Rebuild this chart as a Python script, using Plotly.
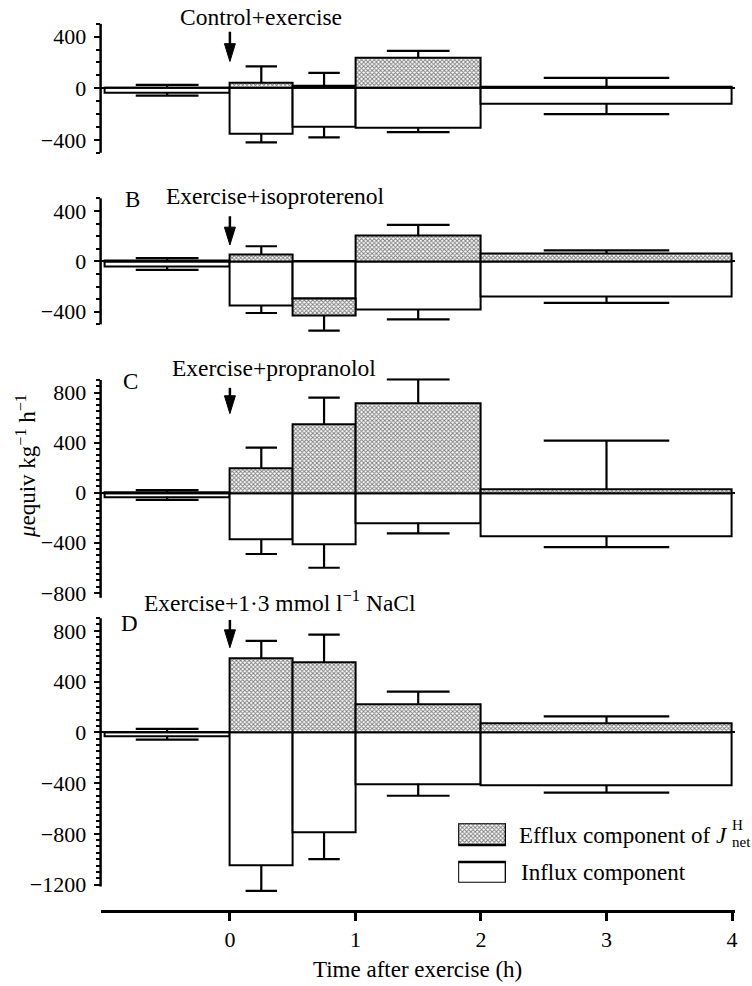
import plotly.graph_objects as go

# Sampling intervals (h after exercise): pre-exercise control, then 0-0.5, 0.5-1, 1-2, 2-4
interval_mid = [-0.5, 0.25, 0.75, 1.5, 3.0]
interval_len = [1.0, 0.5, 0.5, 1.0, 2.0]
x_ticks = [0, 1, 2, 3, 4]

panel_letters = ["", "B", "C", "D"]
panel_titles = [
    "Control+exercise",
    "Exercise+isoproterenol",
    "Exercise+propranolol",
    "Exercise+1·3 mmol l<sup>−1</sup> NaCl",
]

# Efflux / influx components of J_net^H (µequiv kg-1 h-1) and their S.E.M.
efflux_A = [5, 40, 20, 240, 15]
efflux_se_A = [22, 130, 100, 50, 65]
influx_A = [-32, -355, -300, -310, -120]
influx_se_A = [25, 65, 80, 30, 80]

efflux_B = [5, 55, -135, 205, 60]
efflux_se_B = [21, 65, 0, 85, 28]
influx_B = [-42, -350, -295, -380, -280]
influx_se_B = [25, 60, 120, 80, 50]

efflux_C = [5, 195, 550, 715, 30]
efflux_se_C = [15, 165, 210, 190, 385]
influx_C = [-32, -375, -415, -240, -350]
influx_se_C = [25, 115, 185, 85, 85]

efflux_D = [5, 585, 550, 225, 75]
efflux_se_D = [22, 135, 220, 95, 50]
influx_D = [-30, -1050, -785, -405, -420]
influx_se_D = [28, 200, 215, 95, 55]

efflux = [efflux_A, efflux_B, efflux_C, efflux_D]
efflux_se = [efflux_se_A, efflux_se_B, efflux_se_C, efflux_se_D]
influx = [influx_A, influx_B, influx_C, influx_D]
influx_se = [influx_se_A, influx_se_B, influx_se_C, influx_se_D]

# Axis set-up for each panel: drawn axis span, plotting range (room for S.E.M. caps)
axis_span = [[-500, 500], [-500, 500], [-840, 900], [-1215, 900]]
plot_range = [[-500, 500], [-565, 500], [-840, 915], [-1265, 900]]
px_per_unit = [0.130, 0.127, 0.1262, 0.1279]
zero_px = [89.0, 263.5, 496.7, 738.3]
minor_step = [100, 100, 50, 50]
arrow_px = [(32, 62), (218, 247), (391, 417), (625, 653)]
title_px = [(262, 17), (277, 198), (275, 371), (281, 606)]
letter_px = [None, (133, 201), (131, 385), (130, 629)]

W, H = 752, 986
FONT = "Liberation Serif, Times New Roman, serif"
x_range = [-1.03, 4.02]
x_left, x_right = 101, 737.5
x_dom = [x_left / W, x_right / W]


def py(p):
    return 1 - p / H


def to_px(i, v):
    return zero_px[i] - v * px_per_unit[i]


def time_px(t):
    return x_left + (t - x_range[0]) * (x_right - x_left) / (x_range[1] - x_range[0])


fig = go.Figure()
hatch = dict(shape="x", size=3, solidity=0.55, fgcolor="black", bgcolor="white")

for i in range(4):
    sfx = "" if i == 0 else str(i + 1)
    xa, ya = "x" + sfx, "y" + sfx
    fig.add_trace(go.Bar(
        x=interval_mid, y=influx[i], width=interval_len,
        marker=dict(color="white", line=dict(color="black", width=2)),
        xaxis=xa, yaxis=ya, hoverinfo="skip",
    ))
    fig.add_trace(go.Bar(
        x=interval_mid, y=efflux[i], width=interval_len,
        marker=dict(color="white", pattern=hatch, line=dict(color="black", width=2)),
        xaxis=xa, yaxis=ya, hoverinfo="skip",
    ))

    # S.E.M. bars: up from the top of the positive stack, down from the bottom of the negative stack
    ex, ey = [], []
    for m, w, e, es, f, fs in zip(interval_mid, interval_len, efflux[i], efflux_se[i],
                                  influx[i], influx_se[i]):
        half = w / 4
        if es > 0 and e > 0:
            ex += [m, m, None, m - half, m + half, None]
            ey += [e, e + es, None, e + es, e + es, None]
        low = f + min(e, 0)
        if fs > 0:
            ex += [m, m, None, m - half, m + half, None]
            ey += [low, low - fs, None, low - fs, low - fs, None]
    fig.add_trace(go.Scatter(
        x=ex, y=ey, mode="lines", line=dict(color="black", width=2.2),
        xaxis=xa, yaxis=ya, hoverinfo="skip",
    ))

    lo, hi = plot_range[i]
    s_lo, s_hi = axis_span[i]
    m_start = -(-s_lo // minor_step[i]) * minor_step[i]
    minor_vals = list(range(m_start, s_hi + 1, minor_step[i]))
    fig.layout["xaxis" + sfx] = dict(
        domain=x_dom, range=x_range, visible=False, anchor=ya, fixedrange=True,
    )
    fig.layout["yaxis" + sfx] = dict(
        domain=[py(to_px(i, lo)), py(to_px(i, hi))], range=[lo, hi], anchor=xa,
        dtick=400, tick0=0, ticks="outside", ticklen=6, tickwidth=2, tickcolor="black",
        showline=False, showgrid=False,
        zeroline=True, zerolinecolor="black", zerolinewidth=2,
        minor=dict(tickmode="array", tickvals=minor_vals, ticks="outside", ticklen=4,
                   tickwidth=1.5, tickcolor="black", showgrid=False),
        tickfont=dict(family=FONT, size=22, color="black"),
        ticklabelstandoff=3, fixedrange=True,
    )
    # value axis line over its labelled span only
    fig.add_shape(type="line", xref="paper", yref="paper",
                  x0=x_left / W, x1=x_left / W,
                  y0=py(to_px(i, s_lo)), y1=py(to_px(i, s_hi)),
                  line=dict(color="black", width=2.5))

    # exercise marker arrow at t = 0: shaft plus filled head
    a0, a1 = arrow_px[i]
    ax_px = time_px(0)
    head_h, head_w = 18, 5.5
    fig.add_shape(type="line", xref="paper", yref="paper",
                  x0=ax_px / W, x1=ax_px / W, y0=py(a0), y1=py(a1 - head_h + 2),
                  line=dict(color="black", width=2.5))
    fig.add_shape(type="path", xref="paper", yref="paper",
                  path=(f"M {(ax_px - head_w) / W},{py(a1 - head_h)} "
                        f"L {(ax_px + head_w) / W},{py(a1 - head_h)} "
                        f"L {ax_px / W},{py(a1)} Z"),
                  fillcolor="black", line=dict(color="black", width=1))

    tx, ty = title_px[i]
    fig.add_annotation(
        x=tx / W, y=py(ty), xref="paper", yref="paper", text=panel_titles[i],
        showarrow=False, font=dict(family=FONT, size=23.5, color="black"),
        xanchor="center", yanchor="middle",
    )
    if letter_px[i]:
        lx, ly = letter_px[i]
        fig.add_annotation(
            x=lx / W, y=py(ly), xref="paper", yref="paper", text=panel_letters[i],
            showarrow=False, font=dict(family=FONT, size=23, color="black"),
            xanchor="center", yanchor="middle",
        )

# Shared time axis along the bottom
fig.add_trace(go.Scatter(x=[], y=[], xaxis="x5", yaxis="y5", hoverinfo="skip"))
fig.layout["xaxis5"] = dict(
    domain=x_dom, range=x_range, anchor="y5", tickvals=x_ticks,
    ticks="outside", ticklen=8, tickwidth=3, tickcolor="black",
    showline=True, linewidth=3, linecolor="black", showgrid=False, zeroline=False,
    tickfont=dict(family=FONT, size=22, color="black"),
    title=dict(text="Time after exercise (h)", standoff=10,
               font=dict(family=FONT, size=23, color="black")),
    fixedrange=True,
)
fig.layout["yaxis5"] = dict(domain=[py(917.5), py(916)], visible=False, anchor="x5",
                            fixedrange=True)

# Key boxes
fig.add_trace(go.Bar(x=[0.5], y=[1.1], base=[1.9], width=[1],
                     marker=dict(color="white", pattern=hatch, line=dict(color="black", width=2.5)),
                     xaxis="x6", yaxis="y6", hoverinfo="skip"))
fig.add_trace(go.Bar(x=[0.5], y=[1.05], base=[0], width=[1],
                     marker=dict(color="white", line=dict(color="black", width=2.5)),
                     xaxis="x6", yaxis="y6", hoverinfo="skip"))
fig.layout["xaxis6"] = dict(domain=[460 / W, 508 / W], range=[0, 1], visible=False,
                            anchor="y6", fixedrange=True)
fig.layout["yaxis6"] = dict(domain=[py(890), py(830)], range=[0, 3], visible=False,
                            anchor="x6", fixedrange=True)

key_font = dict(family=FONT, size=23, color="black")
fig.add_annotation(x=519 / W, y=py(842), xref="paper", yref="paper",
                   text="Efflux component of <i>J</i>", showarrow=False,
                   xanchor="left", yanchor="middle", font=key_font)
fig.add_annotation(x=733 / W, y=py(832), xref="paper", yref="paper", text="H",
                   showarrow=False, xanchor="left", yanchor="middle",
                   font=dict(family=FONT, size=15, color="black"))
fig.add_annotation(x=733 / W, y=py(849), xref="paper", yref="paper", text="net",
                   showarrow=False, xanchor="left", yanchor="middle",
                   font=dict(family=FONT, size=15, color="black"))
fig.add_annotation(x=521 / W, y=py(880), xref="paper", yref="paper",
                   text="Influx component", showarrow=False,
                   xanchor="left", yanchor="middle", font=key_font)

# Shared y-axis title
fig.add_annotation(x=26 / W, y=py(470), xref="paper", yref="paper",
                   text="<i>μ</i>equiv kg<sup>−1</sup> h<sup>−1</sup>", textangle=-90,
                   showarrow=False, xanchor="center", yanchor="middle",
                   font=dict(family=FONT, size=23, color="black"))

fig.update_layout(
    width=W, height=H, margin=dict(l=0, r=0, t=0, b=0),
    paper_bgcolor="white", plot_bgcolor="white",
    barmode="relative", bargap=0, showlegend=False,
    font=dict(family=FONT, color="black"),
)

fig.write_html("out.html")
